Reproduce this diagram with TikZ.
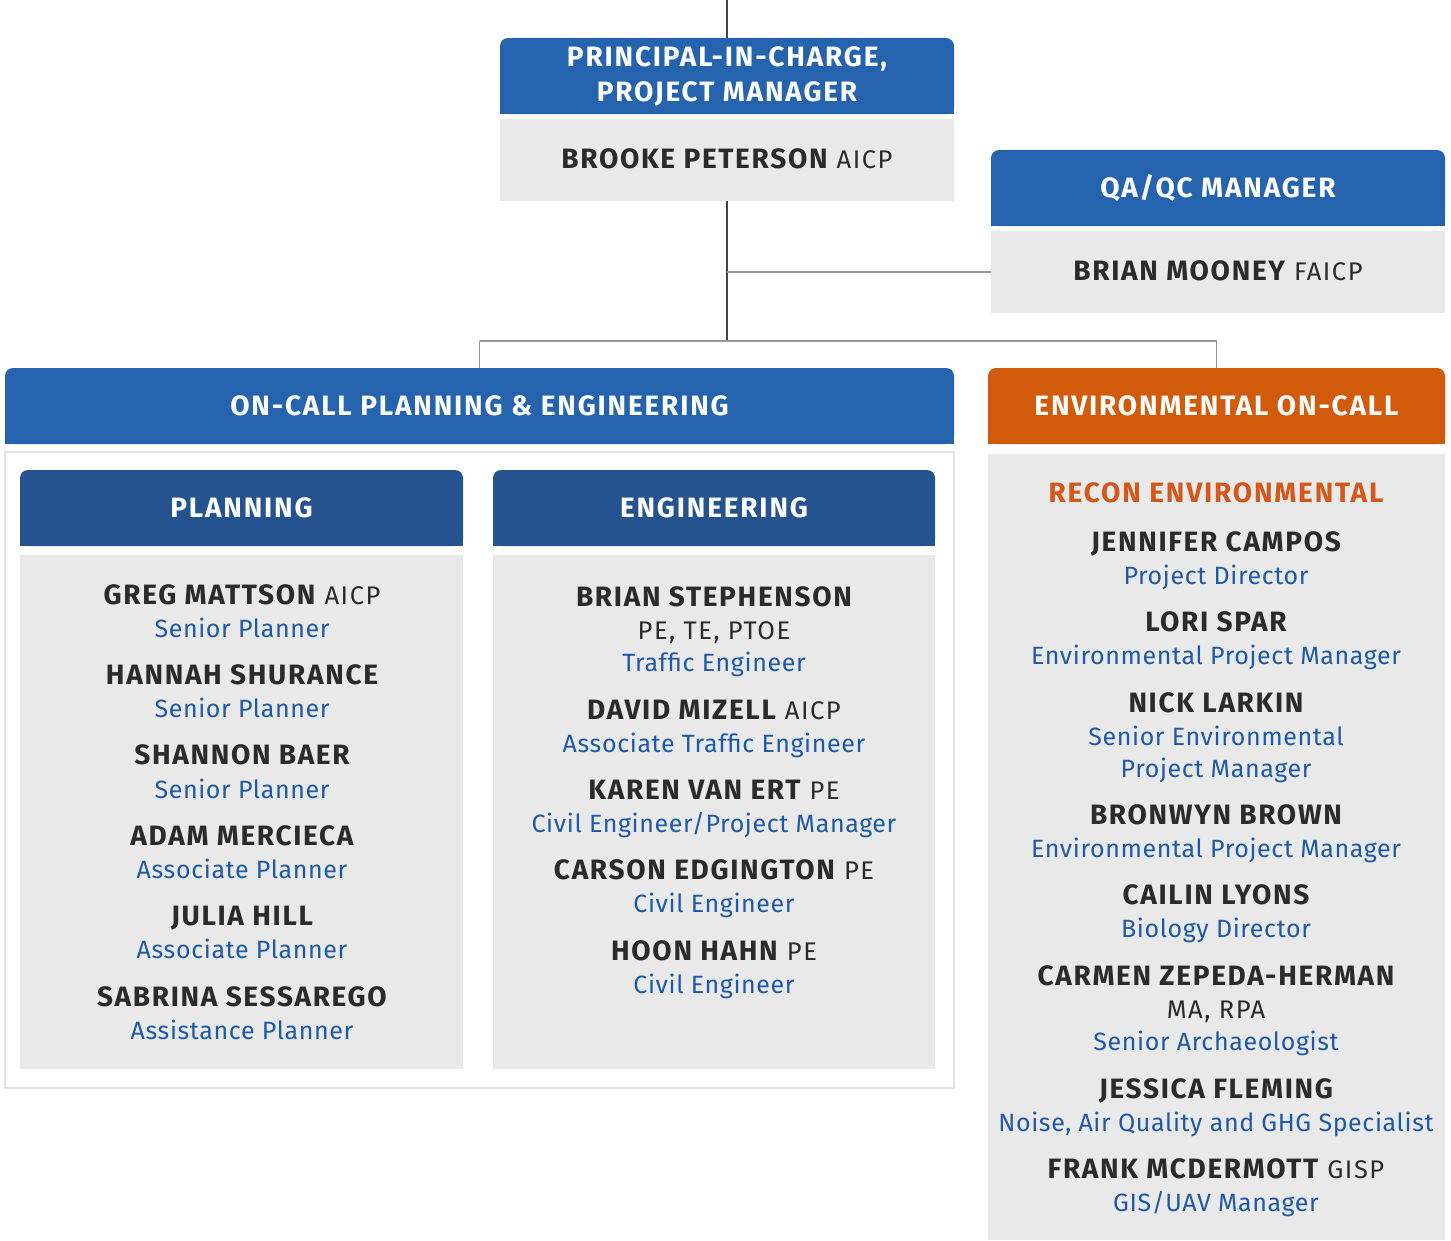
\documentclass[tikz,border=0pt]{standalone}
\usepackage{fontspec}
\setmainfont{Fira Sans}
\newfontfamily\hdrfont[LetterSpace=6.5]{Fira Sans}
\newfontfamily\nmfont[LetterSpace=6]{Fira Sans}
\newfontfamily\ttlfont[LetterSpace=2.5]{Fira Sans}
\usetikzlibrary{backgrounds}
\definecolor{hdrblue}{HTML}{2563AE}
\definecolor{subblue}{HTML}{24538F}
\definecolor{envorange}{HTML}{D15B0B}
\definecolor{boxgray}{HTML}{E9E9E9}
\definecolor{txtdark}{HTML}{2B2B2B}
\definecolor{ttlblue}{HTML}{1E5AA8}
\definecolor{reconorange}{HTML}{D4581A}
\definecolor{framegray}{HTML}{E3E3E3}
\definecolor{linegray}{HTML}{444444}
\newcommand{\nmb}[1]{{\nmfont\fontsize{28}{30}\selectfont\bfseries\color{txtdark}#1}}
\newcommand{\crd}[1]{{\nmfont\fontsize{25.5}{30}\selectfont\color{txtdark}#1}}
\newcommand{\nmc}[2]{{\nmfont\fontsize{28}{30}\selectfont\color{txtdark}{\bfseries #1} {\fontsize{25.5}{30}\selectfont #2}}}
\newcommand{\ttlx}[1]{{\ttlfont\fontsize{25}{30}\selectfont\color{ttlblue}#1}}
\tikzset{
  hdr/.style={rounded corners=8pt, text=white, align=center, inner sep=0pt,
    font=\hdrfont\fontsize{28}{35}\selectfont\bfseries},
  body/.style={fill=boxgray, inner sep=0pt},
  ln/.style={inner sep=0pt, text height=18pt, text depth=0pt, anchor=center},
  conn/.style={draw=linegray, line width=1.3pt},
  connlight/.style={draw=gray!80, line width=1.2pt},
}
\begin{document}
\begin{tikzpicture}[x=1pt,y=-1pt]
\useasboundingbox (0,0) rectangle (1451,1240);
% frame
\node[draw=framegray, line width=2.5pt, minimum width=949pt, minimum height=636pt, inner sep=0pt] (frame) at (479.5,770) {};
% principal
\node[hdr, fill=hdrblue, minimum width=454pt, minimum height=76pt] (pich) at (727,76) {PRINCIPAL-IN-CHARGE,\\PROJECT MANAGER};
\node[body, minimum width=454pt, minimum height=82pt] (picb) at (727,160) {};
% QA
\node[hdr, fill=hdrblue, minimum width=454pt, minimum height=76pt] (qah) at (1218,188) {QA/QC MANAGER};
\node[body, minimum width=454pt, minimum height=82pt] (qab) at (1218,272) {};
% on-call
\node[hdr, fill=hdrblue, minimum width=949pt, minimum height=76pt] (onh) at (479.5,406) {ON-CALL PLANNING \& ENGINEERING};
\node[hdr, fill=envorange, minimum width=457pt, minimum height=76pt] (envh) at (1216.5,406) {ENVIRONMENTAL ON-CALL};
\node[body, minimum width=457pt, minimum height=786pt] (envb) at (1216.5,847) {};
% planning / engineering
\node[hdr, fill=subblue, minimum width=443pt, minimum height=76pt] (plh) at (241.5,508) {PLANNING};
\node[body, minimum width=443pt, minimum height=514pt] (plb) at (241.5,812) {};
\node[hdr, fill=subblue, minimum width=442pt, minimum height=76pt] (enh) at (714,508) {ENGINEERING};
\node[body, minimum width=442pt, minimum height=514pt] (enb) at (714,812) {};
% square bottom corners of headers
\begin{scope}[on background layer]
\fill[hdrblue] ([yshift=12pt]pich.south west) rectangle (pich.south east);
\fill[hdrblue] ([yshift=12pt]qah.south west) rectangle (qah.south east);
\fill[hdrblue] ([yshift=12pt]onh.south west) rectangle (onh.south east);
\fill[envorange] ([yshift=12pt]envh.south west) rectangle (envh.south east);
\fill[subblue] ([yshift=12pt]plh.south west) rectangle (plh.south east);
\fill[subblue] ([yshift=12pt]enh.south west) rectangle (enh.south east);
\end{scope}
% connectors
\coordinate (topend) at (727,0);
\coordinate (qajoin) at (727,272);
\coordinate (bus) at (727,341);
\coordinate (busl) at (479.5,341);
\coordinate (busr) at (1216.5,341);
\draw[conn] (topend) -- (pich.north);
\draw[conn] (picb.south) -- (bus);
\draw[connlight] (qajoin) -- (qab.west);
\draw[connlight] (busl) -- (busr);
\draw[connlight] (busl) -- (onh.north);
\draw[connlight] (busr) -- (envh.north);
% top texts
\node[ln] (bp) at (727,159) {\nmc{BROOKE PETERSON}{AICP}};
\node[ln] (bm) at (1218,271) {\nmc{BRIAN MOONEY}{FAICP}};
% planning
\node[ln] (p1) at (242,595) {\nmc{GREG MATTSON}{AICP}};
\node[ln] (p1t) at (242,628) {\ttlx{Senior Planner}};
\node[ln] (p2) at (242,675) {\nmb{HANNAH SHURANCE}};
\node[ln] (p2t) at (242,708) {\ttlx{Senior Planner}};
\node[ln] (p3) at (242,755) {\nmb{SHANNON BAER}};
\node[ln] (p3t) at (242,789) {\ttlx{Senior Planner}};
\node[ln] (p4) at (242,836) {\nmb{ADAM MERCIECA}};
\node[ln] (p4t) at (242,869) {\ttlx{Associate Planner}};
\node[ln] (p5) at (242,916) {\nmb{JULIA HILL}};
\node[ln] (p5t) at (242,949) {\ttlx{Associate Planner}};
\node[ln] (p6) at (242,997) {\nmb{SABRINA SESSAREGO}};
\node[ln] (p6t) at (242,1030) {\ttlx{Assistance Planner}};
% engineering
\node[ln] (e1) at (714,597) {\nmb{BRIAN STEPHENSON}};
\node[ln] (e1c) at (714,630) {\crd{PE, TE, PTOE}};
\node[ln] (e1t) at (714,662) {\ttlx{Traffic Engineer}};
\node[ln] (e2) at (714,710) {\nmc{DAVID MIZELL}{AICP}};
\node[ln] (e2t) at (714,743) {\ttlx{Associate Traffic Engineer}};
\node[ln] (e3) at (714,790) {\nmc{KAREN VAN ERT}{PE}};
\node[ln] (e3t) at (714,823) {\ttlx{Civil Engineer/Project Manager}};
\node[ln] (e4) at (714,870) {\nmc{CARSON EDGINGTON}{PE}};
\node[ln] (e4t) at (714,903) {\ttlx{Civil Engineer}};
\node[ln] (e5) at (714,951) {\nmc{HOON HAHN}{PE}};
\node[ln] (e5t) at (714,984) {\ttlx{Civil Engineer}};
% environmental
\node[ln] (r0) at (1216,493) {{\hdrfont\fontsize{28}{30}\selectfont\bfseries\color{reconorange}RECON ENVIRONMENTAL}};
\node[ln] (r1) at (1216,542) {\nmb{JENNIFER CAMPOS}};
\node[ln] (r1t) at (1216,575) {\ttlx{Project Director}};
\node[ln] (r2) at (1216,622) {\nmb{LORI SPAR}};
\node[ln] (r2t) at (1216,655) {\ttlx{Environmental Project Manager}};
\node[ln] (r3) at (1216,703) {\nmb{NICK LARKIN}};
\node[ln] (r3t) at (1216,736) {\ttlx{Senior Environmental}};
\node[ln] (r3u) at (1216,768) {\ttlx{Project Manager}};
\node[ln] (r4) at (1216,815) {\nmb{BRONWYN BROWN}};
\node[ln] (r4t) at (1216,848) {\ttlx{Environmental Project Manager}};
\node[ln] (r5) at (1216,895) {\nmb{CAILIN LYONS}};
\node[ln] (r5t) at (1216,928) {\ttlx{Biology Director}};
\node[ln] (r6) at (1216,976) {\nmb{CARMEN ZEPEDA-HERMAN}};
\node[ln] (r6c) at (1216,1009) {\crd{MA, RPA}};
\node[ln] (r6t) at (1216,1041) {\ttlx{Senior Archaeologist}};
\node[ln] (r7) at (1216,1089) {\nmb{JESSICA FLEMING}};
\node[ln] (r7t) at (1216,1122) {\ttlx{Noise, Air Quality and GHG Specialist}};
\node[ln] (r8) at (1216,1169) {\nmc{FRANK MCDERMOTT}{GISP}};
\node[ln] (r8t) at (1216,1202) {\ttlx{GIS/UAV Manager}};
\end{tikzpicture}
\end{document}
